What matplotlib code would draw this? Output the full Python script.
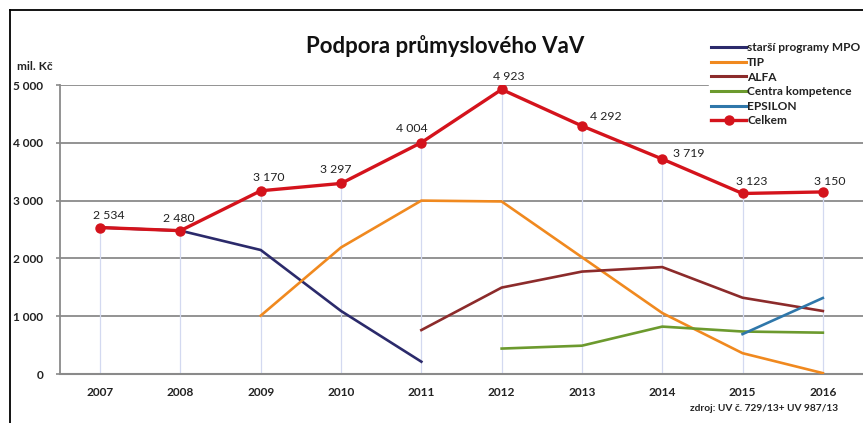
import numpy as np
import matplotlib
matplotlib.use("Agg")
import matplotlib.pyplot as plt
from matplotlib.lines import Line2D

plt.rcParams['font.family'] = ['Lato', 'DejaVu Sans']

# data (mil. Kč)
years = ['2007', '2008', '2009', '2010', '2011', '2012', '2013', '2014', '2015', '2016']
starsi_mpo = [2534, 2480, 2145, 1090, 213, None, None, None, None, None]
tip = [None, None, 1010, 2190, 3000, 2985, 2020, 1055, 360, 15]
alfa = [None, None, None, None, 760, 1495, 1772, 1850, 1320, 1090]
centra_komp = [None, None, None, None, None, 440, 490, 820, 735, 715]
epsilon = [None, None, None, None, None, None, None, None, 690, 1315]
celkem = [2534, 2480, 3170, 3297, 4004, 4923, 4292, 3719, 3123, 3150]
yticks = [0, 1000, 2000, 3000, 4000, 5000]
ytick_labels = ['0', '1 000', '2 000', '3 000', '4 000', '5 000']

# label offsets (points) for the Celkem values
lbl_dx = [6.5, -1.5, 6, -3.5, -7, 5, 17, 19, 6.5, 5]
lbl_dy = [8.6, 8.6, 9.4, 10, 10, 9.4, 6.5, 3.8, 8.6, 7.2]


def to_arr(vals):
    return np.array([np.nan if v is None else v for v in vals], dtype=float)


fig = plt.figure(figsize=(8.63, 4.23), dpi=100)
ax = fig.add_axes([60 / 863, (423 - 374) / 423, 803 / 863, (374 - 85) / 423])

x = np.arange(len(years))
grid_col = '#8a8a8a'

for yv in yticks[1:]:
    ax.axhline(yv, color=grid_col, lw=1.3, zorder=1)

# drop lines
ax.vlines(x, 0, celkem, color='#d3d9f0', lw=0.9, zorder=1)

series = [
    ('starší programy MPO', starsi_mpo, '#2b2a6b'),
    ('TIP', tip, '#f0891f'),
    ('ALFA', alfa, '#8c2b2b'),
    ('Centra kompetence', centra_komp, '#6c9a2e'),
    ('EPSILON', epsilon, '#2f77aa'),
]
handles = []
for name, vals, col in series:
    ax.plot(x, to_arr(vals), color=col, lw=1.9, zorder=3)
    handles.append(Line2D([], [], color=col, lw=2.2, label=name))

ax.plot(x, celkem, color='#d4131c', lw=2.4, marker='o', ms=6.5, zorder=4)
handles.append(Line2D([], [], color='#d4131c', lw=2.4, marker='o', ms=6.5, label='Celkem'))

for i, v in enumerate(celkem):
    ax.annotate(f'{v:,}'.replace(',', ' '), (x[i], v), xytext=(lbl_dx[i], lbl_dy[i]),
                textcoords='offset points', ha='center', va='center',
                fontsize=8.8, color='#222222')

ax.set_xlim(-0.5, len(years) - 0.5)
ax.set_ylim(0, 5000)
ax.set_xticks(x)
ax.set_xticklabels(years)
ax.set_yticks(yticks)
ax.set_yticklabels(ytick_labels)
ax.tick_params(axis='x', length=0, pad=9, labelsize=8.6, labelcolor='#222222')
ax.tick_params(axis='y', length=3, width=1.2, color=grid_col, pad=9, labelsize=8.6,
               labelcolor='#222222')
for lab in ax.get_xticklabels() + ax.get_yticklabels():
    lab.set_fontweight('bold')

for s in ['top', 'right']:
    ax.spines[s].set_visible(False)
ax.spines['left'].set_color(grid_col)
ax.spines['left'].set_linewidth(1.3)
ax.spines['bottom'].set_color(grid_col)
ax.spines['bottom'].set_linewidth(1.5)

leg = fig.legend(handles=handles, loc='upper left', bbox_to_anchor=(709 / 863, 1 - 40 / 423),
                 frameon=True, fontsize=8.6, handlelength=2.9, handletextpad=0.1,
                 labelspacing=0.3, borderpad=0.2, borderaxespad=0)
leg.get_frame().set_edgecolor('white')
leg.get_frame().set_facecolor('white')
leg.get_frame().set_alpha(1)
for t in leg.get_texts():
    t.set_fontweight('bold')
    t.set_color('#222222')

fig.text(445 / 863, 1 - 46 / 423, 'Podpora průmyslového VaV', ha='center', va='center',
         fontsize=16, fontweight='bold', color='#111111')
fig.text(17 / 863, 1 - 67 / 423, 'mil. Kč', ha='left', va='center', fontsize=8.6,
         fontweight='bold', color='#222222')
fig.text(838 / 863, 1 - 408 / 423, 'zdroj: UV č. 729/13+ UV 987/13', ha='right',
         va='center', fontsize=7.3, fontweight='bold', color='#222222')

# outer frame (left and top edges)
fig.add_artist(Line2D([10 / 863, 10 / 863], [0, 1 - 10 / 423], color='black', lw=1.3,
                      transform=fig.transFigure))
fig.add_artist(Line2D([10 / 863, 1], [1 - 10 / 423, 1 - 10 / 423], color='black', lw=1.3,
                      transform=fig.transFigure))

fig.savefig('out.png', dpi=100)
